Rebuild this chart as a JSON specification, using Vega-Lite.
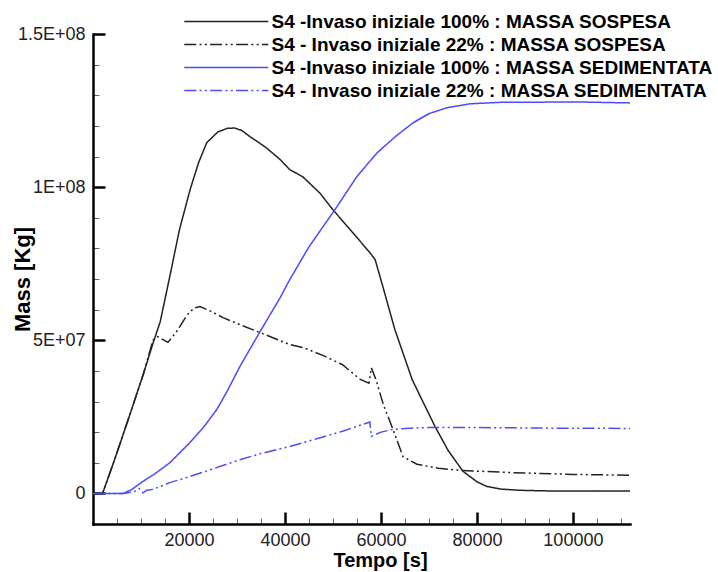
{
 "$schema": "https://vega.github.io/schema/vega-lite/v6.json",
 "width": 537, "height": 490,
 "autosize": "none",
 "padding": {"left": 93, "top": 34, "right": 88, "bottom": 48},
 "background": "white",
 "config": {"view": {"stroke": null}, "font": "Liberation Sans"},
 "datasets": {
  "raw": [
   {"s":"A","t":0,"v":0},{"s":"A","t":2000,"v":0},{"s":"A","t":4500,"v":11000000},{"s":"A","t":7700,"v":25800000},{"s":"A","t":10500,"v":39000000},{"s":"A","t":12500,"v":49000000},{"s":"A","t":14000,"v":56000000},{"s":"A","t":16000,"v":70800000},{"s":"A","t":18000,"v":86000000},{"s":"A","t":20200,"v":99000000},{"s":"A","t":22000,"v":108000000},{"s":"A","t":23700,"v":114500000},{"s":"A","t":26000,"v":118000000},{"s":"A","t":28000,"v":119200000},{"s":"A","t":29500,"v":119300000},{"s":"A","t":31000,"v":118500000},{"s":"A","t":32700,"v":116500000},{"s":"A","t":36000,"v":113000000},{"s":"A","t":39000,"v":109000000},{"s":"A","t":41000,"v":105700000},{"s":"A","t":43700,"v":103400000},{"s":"A","t":47300,"v":98000000},{"s":"A","t":50000,"v":92600000},{"s":"A","t":54200,"v":85000000},{"s":"A","t":57700,"v":78600000},{"s":"A","t":58800,"v":76300000},{"s":"A","t":60400,"v":67500000},{"s":"A","t":62900,"v":53500000},{"s":"A","t":65000,"v":44000000},{"s":"A","t":66500,"v":37200000},{"s":"A","t":68100,"v":32000000},{"s":"A","t":71250,"v":21900000},{"s":"A","t":74000,"v":14000000},{"s":"A","t":77100,"v":7200000},{"s":"A","t":80000,"v":3800000},{"s":"A","t":82000,"v":2300000},{"s":"A","t":85000,"v":1400000},{"s":"A","t":89000,"v":1000000},{"s":"A","t":95000,"v":800000},{"s":"A","t":100000,"v":750000},{"s":"A","t":111900,"v":800000},
   {"s":"B","t":0,"v":0},{"s":"B","t":2000,"v":0},{"s":"B","t":4500,"v":11000000},{"s":"B","t":7700,"v":25800000},{"s":"B","t":10500,"v":39000000},{"s":"B","t":12500,"v":50000000},{"s":"B","t":13500,"v":51200000},{"s":"B","t":15600,"v":49300000},{"s":"B","t":17500,"v":53000000},{"s":"B","t":19500,"v":58000000},{"s":"B","t":21000,"v":60500000},{"s":"B","t":22300,"v":61000000},{"s":"B","t":24500,"v":59500000},{"s":"B","t":27100,"v":57400000},{"s":"B","t":30000,"v":55500000},{"s":"B","t":34800,"v":52500000},{"s":"B","t":38000,"v":50500000},{"s":"B","t":41000,"v":48600000},{"s":"B","t":44000,"v":47500000},{"s":"B","t":48000,"v":45000000},{"s":"B","t":52000,"v":42000000},{"s":"B","t":55700,"v":37200000},{"s":"B","t":57500,"v":36000000},{"s":"B","t":58000,"v":41000000},{"s":"B","t":59000,"v":37000000},{"s":"B","t":60500,"v":29000000},{"s":"B","t":62500,"v":20900000},{"s":"B","t":64600,"v":12000000},{"s":"B","t":67500,"v":9500000},{"s":"B","t":72000,"v":8200000},{"s":"B","t":76500,"v":7500000},{"s":"B","t":86900,"v":6800000},{"s":"B","t":100000,"v":6200000},{"s":"B","t":111900,"v":5900000},
   {"s":"C","t":0,"v":0},{"s":"C","t":6250,"v":0},{"s":"C","t":8000,"v":1200000},{"s":"C","t":10400,"v":3900000},{"s":"C","t":13000,"v":6500000},{"s":"C","t":16000,"v":10000000},{"s":"C","t":20200,"v":16600000},{"s":"C","t":23000,"v":21500000},{"s":"C","t":25800,"v":27400000},{"s":"C","t":28000,"v":33500000},{"s":"C","t":30600,"v":41400000},{"s":"C","t":34800,"v":52800000},{"s":"C","t":39000,"v":63900000},{"s":"C","t":41000,"v":69800000},{"s":"C","t":45000,"v":80500000},{"s":"C","t":50400,"v":92600000},{"s":"C","t":55000,"v":103500000},{"s":"C","t":59200,"v":111200000},{"s":"C","t":63000,"v":116500000},{"s":"C","t":66700,"v":121000000},{"s":"C","t":70000,"v":124000000},{"s":"C","t":73700,"v":125900000},{"s":"C","t":78500,"v":127200000},{"s":"C","t":85000,"v":127700000},{"s":"C","t":101500,"v":127800000},{"s":"C","t":111900,"v":127500000},
   {"s":"D","t":0,"v":0},{"s":"D","t":6250,"v":0},{"s":"D","t":8500,"v":500000},{"s":"D","t":9600,"v":1600000},{"s":"D","t":10400,"v":200000},{"s":"D","t":11200,"v":1000000},{"s":"D","t":12500,"v":1300000},{"s":"D","t":16000,"v":3500000},{"s":"D","t":20200,"v":5500000},{"s":"D","t":25000,"v":8000000},{"s":"D","t":30600,"v":11000000},{"s":"D","t":35000,"v":13000000},{"s":"D","t":41000,"v":15300000},{"s":"D","t":47000,"v":18000000},{"s":"D","t":52000,"v":20300000},{"s":"D","t":57700,"v":23300000},{"s":"D","t":58000,"v":18600000},{"s":"D","t":60000,"v":20000000},{"s":"D","t":62500,"v":20900000},{"s":"D","t":66000,"v":21300000},{"s":"D","t":69600,"v":21500000},{"s":"D","t":80000,"v":21500000},{"s":"D","t":95000,"v":21300000},{"s":"D","t":111900,"v":21200000}
  ],
  "names": [
   {"s":"A","name":"S4 -Invaso iniziale 100% : MASSA SOSPESA"},
   {"s":"B","name":"S4 - Invaso iniziale 22% : MASSA SOSPESA"},
   {"s":"C","name":"S4 -Invaso iniziale 100% : MASSA SEDIMENTATA"},
   {"s":"D","name":"S4 - Invaso iniziale 22% : MASSA SEDIMENTATA"}
  ]
 },
 "data": {"name": "raw"},
 "transform": [
  {"lookup": "s", "from": {"data": {"name": "names"}, "key": "s", "fields": ["name"]}}
 ],
 "mark": {"type": "line", "strokeWidth": 1.5, "clip": true},
 "encoding": {
  "x": {"field": "t", "type": "quantitative",
   "scale": {"domain": [0, 111900], "nice": false, "zero": false},
   "axis": {"orient": "top", "offset": -490,
    "values": [5000, 10000, 15000, 20000, 25000, 30000, 35000, 40000, 45000, 50000, 55000, 60000, 65000, 70000, 75000, 80000, 85000, 90000, 95000, 100000, 105000, 110000],
    "format": "d", "labelExpr": "datum.value % 20000 == 0 ? datum.label : ''",
    "labelFontSize": 18, "labelColor": "#222", "labelFont": "Liberation Sans",
    "labelBaseline": "top", "labelPadding": -19,
    "ticks": true,
    "tickSize": {"condition": {"test": "datum.value % 20000 == 0", "value": 12}, "value": 6},
    "tickWidth": {"condition": {"test": "datum.value % 20000 == 0", "value": 2.5}, "value": 1},
    "tickColor": {"condition": {"test": "datum.value % 20000 == 0", "value": "black"}, "value": "#666"},
    "grid": false,
    "domainColor": "black", "domainWidth": 2.5, "domainCap": "square",
    "title": "Tempo [s]", "titleFontSize": 20, "titleFontWeight": "bold", "titleColor": "black",
    "titleX": 287, "titleY": 42, "titleBaseline": "alphabetic", "titleAlign": "center"}},
  "y": {"field": "v", "type": "quantitative",
   "scale": {"domain": [-10000000, 150000000], "nice": false, "zero": false},
   "axis": {"orient": "right", "offset": -537,
    "values": [0, 10000000, 20000000, 30000000, 40000000, 50000000, 60000000, 70000000, 80000000, 90000000, 100000000, 110000000, 120000000, 130000000, 140000000, 150000000],
    "labelExpr": "datum.value == 0 ? '0' : datum.value == 50000000 ? '5E+07' : datum.value == 100000000 ? '1E+08' : datum.value == 150000000 ? '1.5E+08' : ''",
    "labelFontSize": 18, "labelColor": "#222", "labelFont": "Liberation Sans",
    "labelAlign": "right", "labelBaseline": "middle", "labelPadding": -20,
    "ticks": true,
    "tickSize": {"condition": {"test": "datum.value % 50000000 == 0", "value": 12}, "value": 6},
    "tickWidth": {"condition": {"test": "datum.value % 50000000 == 0", "value": 2.5}, "value": 1},
    "tickColor": {"condition": {"test": "datum.value % 50000000 == 0", "value": "black"}, "value": "#666"},
    "grid": false,
    "domainColor": "black", "domainWidth": 2.5, "domainCap": "square",
    "title": "Mass [Kg]", "titleFontSize": 22, "titleFontWeight": "bold", "titleColor": "black",
    "titleAngle": 270, "titleX": -64, "titleY": 245, "titleBaseline": "alphabetic", "titleAlign": "center"}},
  "color": {"field": "name", "type": "nominal",
   "scale": {"domain": ["S4 -Invaso iniziale 100% : MASSA SOSPESA", "S4 - Invaso iniziale 22% : MASSA SOSPESA", "S4 -Invaso iniziale 100% : MASSA SEDIMENTATA", "S4 - Invaso iniziale 22% : MASSA SEDIMENTATA"],
    "range": ["#222222", "#222222", "#4b4bff", "#4b4bff"]},
   "legend": {"title": null, "orient": "none", "legendX": 123.75, "legendY": -22, "symbolType": "M-8,0H8", "symbolSize": 110.25, "symbolStrokeWidth": 1.5, "labelFont": "Liberation Sans", "labelFontWeight": "bold", "labelFontSize": 19, "labelColor": "black", "rowPadding": 3, "labelLimit": 700, "labelOffset": 35.75, "padding": 0}},
  "strokeDash": {"field": "name", "type": "nominal",
   "scale": {"domain": ["S4 -Invaso iniziale 100% : MASSA SOSPESA", "S4 - Invaso iniziale 22% : MASSA SOSPESA", "S4 -Invaso iniziale 100% : MASSA SEDIMENTATA", "S4 - Invaso iniziale 22% : MASSA SEDIMENTATA"],
    "range": [[1, 0], [12, 3.3, 2, 3.3, 2, 3.3], [1, 0], [12, 3.3, 2, 3.3, 2, 3.3]]},
   "legend": {"title": null, "orient": "none", "legendX": 123.75, "legendY": -22, "symbolType": "M-8,0H8", "symbolSize": 110.25, "symbolStrokeWidth": 1.5, "labelFont": "Liberation Sans", "labelFontWeight": "bold", "labelFontSize": 19, "labelColor": "black", "rowPadding": 3, "labelLimit": 700, "labelOffset": 35.75, "padding": 0}}
 }
}
